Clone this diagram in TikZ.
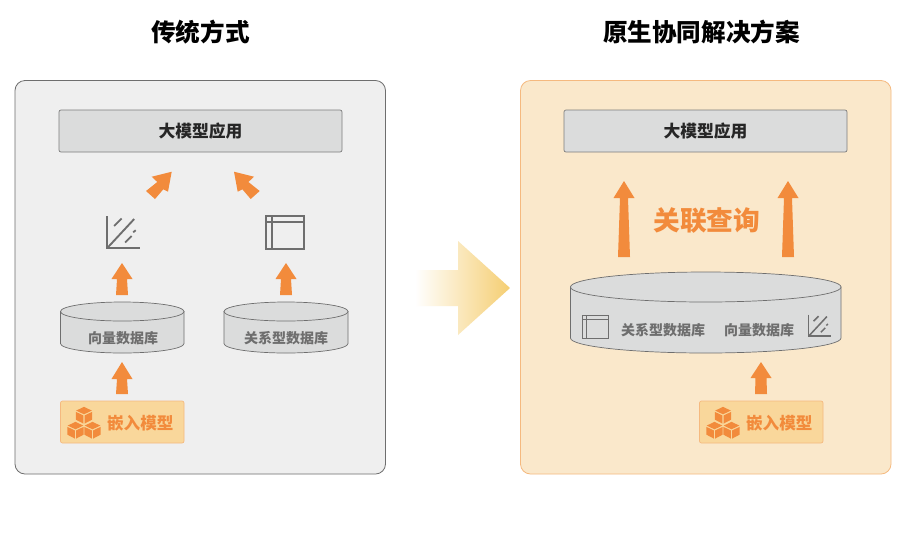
\documentclass[tikz,border=0pt]{standalone}
\usepackage{fontspec}
\setmainfont{Noto Sans CJK SC}
\definecolor{arrowor}{HTML}{F28B3C}
\definecolor{iconGr}{HTML}{6E6E6E}
\definecolor{dbGr}{HTML}{DBDCDC}
\definecolor{panelL}{HTML}{EFEFEF}
\definecolor{panelR}{HTML}{FAE8CB}
\definecolor{embedF}{HTML}{F9D79B}
\definecolor{embedS}{HTML}{F5B97F}
\definecolor{bigarrow}{HTML}{F5CE72}
\tikzset{
  panelbox/.style={rounded corners=10pt,line width=0.8pt},
  appbox/.style={draw=iconGr!90,fill=dbGr,line width=0.7pt,rounded corners=2pt,minimum width=283pt,minimum height=42pt,inner sep=0pt,font=\bfseries\fontsize{16.8}{18}\selectfont,text=black!85},
  embedbox/.style={draw=embedS,fill=embedF,line width=0.7pt,rounded corners=2pt},
  embedtext/.style={font=\bfseries\fontsize{16.6}{18}\selectfont,text=arrowor,inner sep=0pt},
  titletext/.style={font=\bfseries\fontsize{24.6}{28}\selectfont,text=black,inner sep=0pt},
  dbtext/.style={font=\bfseries\fontsize{14}{16}\selectfont,text=iconGr,inner sep=0pt},
  dbside/.style={draw=iconGr,fill=dbGr,line width=0.7pt},
  blockarrow/.style={fill=arrowor,draw=none},
  iconline/.style={draw=iconGr,line width=1.9pt},
}
% x, tip y, head base y, bottom y, top half width of stem
\newcommand{\uparrowblock}[5]{%
  \fill[blockarrow] (#1,#2) -- (#1+10.5,#3) -- (#1+#5,#3) -- (#1+6,#4) -- (#1-6,#4) -- (#1-#5,#3) -- (#1-10.5,#3) -- cycle;}
% x left, x right, top of ellipse, ellipse ry, bottom
\newcommand{\dbdrum}[5]{%
  \pgfmathsetmacro{\cxx}{(#1+#2)/2}\pgfmathsetmacro{\rxx}{(#2-#1)/2}%
  \path[dbside] (#1,#3+#4) -- (#1,#5-#4) arc[start angle=180,end angle=360,x radius=\rxx,y radius=-#4] -- (#2,#3+#4) -- cycle;
  \path[dbside] (\cxx,#3+#4) ellipse[x radius=\rxx,y radius=#4];}
% x, y, scale, stroke factor
\newcommand{\chartico}[4]{%
  \begin{scope}[shift={(#1,#2)},scale=#3]
    \draw[iconline,line width=#4*2.1pt] (0,0) -- (0,32) -- (33.5,32);
    \draw[iconline,line width=#4*1.9pt] (1.5,31) -- (27.5,3);
    \draw[iconline,line width=#4*1.8pt] (7.5,10) -- (15,2.5);
    \draw[iconline,line width=#4*1.8pt] (18.5,26.5) -- (25,20);
    \draw[iconline,line width=#4*1.8pt] (26.5,16.3) -- (29,14.2);
  \end{scope}}
\newcommand{\tableico}[4]{%
  \begin{scope}[shift={(#1,#2)},scale=#3]
    \draw[iconline,line width=#4*1.9pt] (0,0) rectangle (38,33);
    \draw[iconline,line width=#4*1.9pt] (0,5.7) -- (38,5.7);
    \draw[iconline,line width=#4*1.9pt] (5.7,0) -- (5.7,33);
  \end{scope}}
\newcommand{\onecube}[2]{%
  \fill[arrowor] (#1,#2-8.2) -- (#1+7.8,#2-4.4) -- (#1,#2-0.7) -- (#1-7.8,#2-4.4) -- cycle;
  \fill[arrowor] (#1-8.2,#2-3.2) -- (#1-0.6,#2+0.5) -- (#1-0.6,#2+8.6) -- (#1-8.2,#2+4.6) -- cycle;
  \fill[arrowor] (#1+8.2,#2-3.2) -- (#1+0.6,#2+0.5) -- (#1+0.6,#2+8.6) -- (#1+8.2,#2+4.6) -- cycle;}
\newcommand{\cubes}[2]{\onecube{#1+17}{#2+11}\onecube{#1+8.5}{#2+26}\onecube{#1+25.5}{#2+26}}
\begin{document}
\begin{tikzpicture}[x=1pt,y=-1pt]
\useasboundingbox (0,0) rectangle (915,547);
\fill[white] (0,0) rectangle (915,547);
% titles
\node[titletext] (titleL) at (200.5,32) {传统方式};
\node[titletext] (titleR) at (701.5,32) {原生协同解决方案};
% panels
\draw[panelbox,draw=iconGr,fill=panelL] (15,80.5) rectangle (385.5,474);
\draw[panelbox,draw=embedS,fill=panelR] (520.5,80.5) rectangle (891,474);
% transition arrow
\shade[left color=white,right color=bigarrow,shading angle=90] (415,270) -- (458,270) -- (458,241) -- (510,288) -- (458,335) -- (458,306) -- (415,306) -- cycle;
% apps
\node[appbox] (appL) at (200.5,131) {\raisebox{-0.5pt}{大模型应用}};
\node[appbox] (appR) at (705.5,131) {\raisebox{-0.5pt}{大模型应用}};
% left panel
\fill[blockarrow] (171.7,171.7) -- (151.7,176.7) -- (157.3,182) -- (146,191) -- (155,199) -- (163.3,189.3) -- (168,191.7) -- cycle;
\fill[blockarrow] (234,171.7) -- (254,176.7) -- (248.4,182) -- (259.7,191) -- (250.7,199) -- (242.4,189.3) -- (237.7,191.7) -- cycle;
\chartico{106.7}{216}{1}{1}
\tableico{266}{216}{1}{1}
\uparrowblock{122}{263}{279}{295}{5}
\uparrowblock{286}{263}{279}{295}{5}
\dbdrum{60.5}{184}{302}{9.5}{353}
\dbdrum{224}{348}{302}{9.5}{353}
\node[dbtext] (vecL) at (123,338) {向量数据库};
\node[dbtext] (relL) at (286,338) {关系型数据库};
\uparrowblock{122}{362}{379}{394}{5}
\draw[embedbox] (60.5,401) rectangle (184,443);
\cubes{67}{404}
\node[embedtext] (embL) at (140.3,423.5) {嵌入模型};
% right panel
\uparrowblock{624}{181}{198}{257}{4}
\uparrowblock{788}{181}{198}{257}{4}
\node[font=\bfseries\fontsize{26.7}{30}\selectfont,text=arrowor,inner sep=0pt] (query) at (706.7,220.5) {关联查询};
\dbdrum{570.5}{841}{272}{15}{353}
\tableico{582.5}{315.5}{0.69}{0.8}
\chartico{808.5}{314.5}{0.67}{0.8}
\node[dbtext] (relR) at (663,330) {关系型数据库};
\node[dbtext] (vecR) at (759,330) {向量数据库};
\uparrowblock{761}{362}{378}{394}{5.5}
\draw[embedbox] (699.5,401) rectangle (823,443);
\cubes{706}{404}
\node[embedtext] (embR) at (779.3,423.5) {嵌入模型};
\end{tikzpicture}
\end{document}
